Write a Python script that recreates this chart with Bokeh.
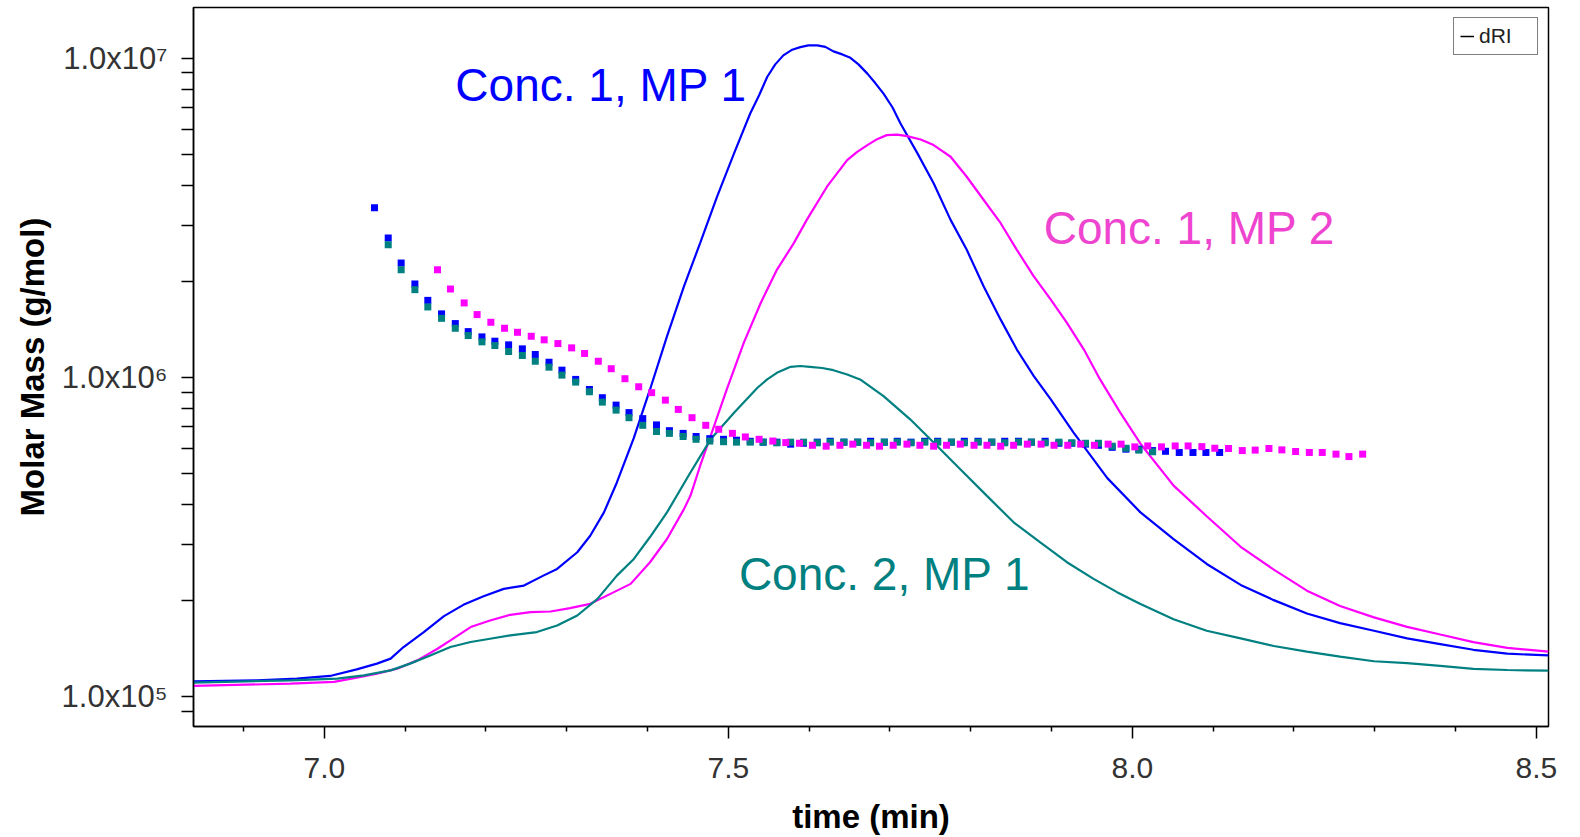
from bokeh.plotting import figure
from bokeh.models import (Range1d, LinearScale, FixedTicker, CustomJSTickFormatter,
                          PrintfTickFormatter, Label, Legend, LegendItem)
from bokeh.embed import file_html
from bokeh.resources import INLINE

# ---------------- data ----------------
# Molar mass (dots) – Conc. 1, MP 1 (blue)
blue_mm_time = [7.062, 7.079, 7.095, 7.112, 7.128, 7.145, 7.162, 7.178, 7.195, 7.211,
                7.228, 7.245, 7.261, 7.278, 7.294, 7.311, 7.328, 7.344, 7.361, 7.377,
                7.394, 7.411, 7.427, 7.444, 7.460, 7.477, 7.494, 7.510, 7.527, 7.543,
                7.560, 7.577, 7.593, 7.610, 7.626, 7.643, 7.660, 7.676, 7.693, 7.709,
                7.726, 7.743, 7.759, 7.776, 7.792, 7.809, 7.826, 7.842, 7.859, 7.875,
                7.892, 7.909, 7.925, 7.942, 7.958, 7.975, 7.992, 8.008, 8.025, 8.041,
                8.058, 8.075, 8.091, 8.108]
blue_mm = [3.405e6, 2.733e6, 2.283e6, 1.963e6, 1.744e6, 1.582e6, 1.475e6, 1.392e6, 1.340e6, 1.299e6,
           1.265e6, 1.229e6, 1.180e6, 1.116e6, 1.054e6, 9.86e5, 9.17e5, 8.64e5, 8.19e5, 7.76e5,
           7.43e5, 7.10e5, 6.81e5, 6.68e5, 6.53e5, 6.43e5, 6.40e5, 6.36e5, 6.31e5, 6.27e5,
           6.27e5, 6.18e5, 6.22e5, 6.27e5, 6.31e5, 6.27e5, 6.27e5, 6.31e5, 6.27e5, 6.31e5,
           6.27e5, 6.31e5, 6.31e5, 6.27e5, 6.31e5, 6.31e5, 6.27e5, 6.31e5, 6.31e5, 6.27e5,
           6.31e5, 6.22e5, 6.22e5, 6.18e5, 6.13e5, 6.04e5, 5.96e5, 5.96e5, 5.90e5, 5.87e5,
           5.82e5, 5.82e5, 5.82e5, 5.82e5]

# Molar mass – Conc. 2, MP 1 (teal)
teal_mm_time = [7.079, 7.095, 7.112, 7.128, 7.145, 7.162, 7.178, 7.195, 7.211, 7.228,
                7.245, 7.261, 7.278, 7.294, 7.311, 7.328, 7.344, 7.361, 7.377, 7.394,
                7.411, 7.427, 7.444, 7.460, 7.477, 7.494, 7.510, 7.527, 7.543, 7.560,
                7.577, 7.593, 7.610, 7.626, 7.643, 7.660, 7.676, 7.693, 7.709, 7.726,
                7.743, 7.759, 7.776, 7.792, 7.809, 7.826, 7.842, 7.859, 7.875, 7.892,
                7.909, 7.925, 7.942, 7.958, 7.975, 7.992, 8.008, 8.025]
teal_mm = [2.604e6, 2.175e6, 1.884e6, 1.663e6, 1.532e6, 1.426e6, 1.353e6, 1.293e6, 1.259e6, 1.206e6,
           1.172e6, 1.124e6, 1.077e6, 1.017e6, 9.67e5, 9.02e5, 8.37e5, 7.90e5, 7.48e5, 7.08e5,
           6.77e5, 6.68e5, 6.53e5, 6.40e5, 6.32e5, 6.29e5, 6.27e5, 6.27e5, 6.27e5, 6.24e5,
           6.27e5, 6.27e5, 6.24e5, 6.27e5, 6.27e5, 6.27e5, 6.24e5, 6.27e5, 6.27e5, 6.24e5,
           6.27e5, 6.27e5, 6.27e5, 6.24e5, 6.27e5, 6.27e5, 6.24e5, 6.27e5, 6.27e5, 6.24e5,
           6.27e5, 6.24e5, 6.22e5, 6.22e5, 6.09e5, 6.00e5, 5.92e5, 5.85e5]

# Molar mass – Conc. 1, MP 2 (magenta)
magenta_mm_time = [7.140, 7.156, 7.173, 7.189, 7.206, 7.223, 7.239, 7.256, 7.272, 7.289,
                   7.306, 7.322, 7.339, 7.355, 7.372, 7.389, 7.405, 7.422, 7.438, 7.455,
                   7.472, 7.488, 7.505, 7.521, 7.538, 7.555, 7.571, 7.588, 7.604, 7.621,
                   7.638, 7.654, 7.671, 7.687, 7.704, 7.721, 7.737, 7.754, 7.770, 7.787,
                   7.804, 7.820, 7.837, 7.853, 7.870, 7.887, 7.903, 7.920, 7.936, 7.953,
                   7.970, 7.986, 8.003, 8.019, 8.036, 8.053, 8.069, 8.086, 8.102, 8.119,
                   8.136, 8.152, 8.169, 8.185, 8.202, 8.219, 8.235, 8.252, 8.268, 8.285]
magenta_mm = [2.175e6, 1.893e6, 1.712e6, 1.574e6, 1.489e6, 1.426e6, 1.385e6, 1.346e6, 1.312e6, 1.277e6,
              1.238e6, 1.189e6, 1.124e6, 1.065e6, 9.91e5, 9.35e5, 8.96e5, 8.49e5, 7.94e5, 7.48e5,
              7.08e5, 6.88e5, 6.68e5, 6.51e5, 6.40e5, 6.32e5, 6.25e5, 6.22e5, 6.13e5, 6.09e5,
              6.13e5, 6.18e5, 6.13e5, 6.09e5, 6.13e5, 6.18e5, 6.13e5, 6.09e5, 6.13e5, 6.18e5,
              6.13e5, 6.13e5, 6.09e5, 6.13e5, 6.18e5, 6.18e5, 6.13e5, 6.13e5, 6.18e5, 6.13e5,
              6.18e5, 6.18e5, 6.06e5, 6.10e5, 6.06e5, 6.10e5, 6.10e5, 6.07e5, 6.00e5, 5.99e5,
              5.90e5, 5.92e5, 5.99e5, 5.93e5, 5.86e5, 5.82e5, 5.82e5, 5.75e5, 5.65e5, 5.75e5]

# dRI signal (relative units)
blue_dri_time = [6.838, 6.917, 6.966, 7.007, 7.040, 7.065, 7.082, 7.098, 7.123, 7.148,
                 7.172, 7.197, 7.222, 7.247, 7.271, 7.288, 7.313, 7.329, 7.346, 7.362,
                 7.383, 7.403, 7.424, 7.445, 7.465, 7.486, 7.507, 7.527, 7.538, 7.548,
                 7.558, 7.568, 7.579, 7.589, 7.599, 7.610, 7.620, 7.630, 7.641, 7.651,
                 7.661, 7.672, 7.682, 7.692, 7.703, 7.713, 7.734, 7.754, 7.775, 7.795,
                 7.816, 7.837, 7.857, 7.878, 7.899, 7.927, 7.969, 8.010, 8.051, 8.092,
                 8.134, 8.175, 8.216, 8.257, 8.299, 8.340, 8.381, 8.422, 8.464, 8.515]
blue_dri = [0.0036, 0.0052, 0.0078, 0.0120, 0.0223, 0.0313, 0.0391, 0.0573, 0.0808, 0.1058,
            0.1234, 0.1370, 0.1484, 0.1536, 0.1692, 0.1797, 0.2058, 0.2317, 0.2683, 0.3152,
            0.3850, 0.4609, 0.5442, 0.6223, 0.6902, 0.7630, 0.8308, 0.8933, 0.9219, 0.9505,
            0.9703, 0.9844, 0.9933, 0.9973, 1.0000, 1.0000, 0.9977, 0.9906, 0.9859, 0.9805,
            0.9703, 0.9558, 0.9406, 0.9245, 0.9031, 0.8777, 0.8308, 0.7839, 0.7266, 0.6797,
            0.6223, 0.5703, 0.5234, 0.4817, 0.4453, 0.3938, 0.3220, 0.2683, 0.2264, 0.1875,
            0.1547, 0.1308, 0.1098, 0.0948, 0.0828, 0.0709, 0.0619, 0.0530, 0.0469, 0.0441]

magenta_dri_time = [6.838, 6.958, 7.012, 7.040, 7.065, 7.090, 7.115, 7.140, 7.156, 7.181,
                    7.205, 7.230, 7.255, 7.280, 7.304, 7.329, 7.354, 7.379, 7.403, 7.424,
                    7.445, 7.453, 7.465, 7.478, 7.498, 7.519, 7.540, 7.560, 7.581, 7.597,
                    7.622, 7.647, 7.659, 7.672, 7.684, 7.696, 7.709, 7.721, 7.738, 7.754,
                    7.764, 7.775, 7.795, 7.816, 7.837, 7.857, 7.878, 7.899, 7.919, 7.940,
                    7.960, 7.985, 8.010, 8.051, 8.092, 8.134, 8.175, 8.216, 8.257, 8.299,
                    8.340, 8.381, 8.422, 8.464, 8.515]
magenta_dri = [-0.0036, 0.0000, 0.0027, 0.0094, 0.0156, 0.0234, 0.0364, 0.0547, 0.0677, 0.0886,
               0.0989, 0.1078, 0.1120, 0.1130, 0.1183, 0.1250, 0.1406, 0.1563, 0.1902, 0.2266,
               0.2734, 0.2942, 0.3410, 0.3880, 0.4609, 0.5339, 0.5964, 0.6484, 0.6902, 0.7266,
               0.7786, 0.8203, 0.8328, 0.8438, 0.8531, 0.8594, 0.8602, 0.8578, 0.8525, 0.8438,
               0.8352, 0.8255, 0.7942, 0.7578, 0.7214, 0.6797, 0.6380, 0.6016, 0.5652, 0.5234,
               0.4766, 0.4245, 0.3759, 0.3102, 0.2623, 0.2144, 0.1786, 0.1456, 0.1217, 0.1038,
               0.0889, 0.0769, 0.0650, 0.0559, 0.0500]

teal_dri_time = [6.838, 6.958, 7.016, 7.049, 7.082, 7.106, 7.131, 7.156, 7.181, 7.205,
                 7.230, 7.263, 7.288, 7.313, 7.338, 7.362, 7.383, 7.403, 7.424, 7.453,
                 7.478, 7.507, 7.536, 7.548, 7.560, 7.577, 7.589, 7.601, 7.616, 7.630,
                 7.647, 7.663, 7.692, 7.725, 7.754, 7.787, 7.820, 7.853, 7.886, 7.919,
                 7.952, 7.981, 8.010, 8.051, 8.092, 8.134, 8.175, 8.216, 8.257, 8.299,
                 8.340, 8.381, 8.422, 8.464, 8.515]
teal_dri = [0.0016, 0.0052, 0.0078, 0.0130, 0.0208, 0.0313, 0.0442, 0.0573, 0.0652, 0.0703,
            0.0755, 0.0808, 0.0911, 0.1067, 0.1328, 0.1692, 0.1953, 0.2297, 0.2683, 0.3308,
            0.3828, 0.4245, 0.4636, 0.4766, 0.4870, 0.4964, 0.4977, 0.4964, 0.4945, 0.4911,
            0.4844, 0.4766, 0.4505, 0.4141, 0.3777, 0.3359, 0.2942, 0.2527, 0.2214, 0.1902,
            0.1641, 0.1433, 0.1247, 0.1008, 0.0828, 0.0709, 0.0589, 0.0500, 0.0422, 0.0350,
            0.0320, 0.0278, 0.0231, 0.0213, 0.0202]

x_major_ticks = [7.0, 7.5, 8.0, 8.5]
x_minor_ticks = [6.9, 7.1, 7.2, 7.3, 7.4, 7.6, 7.7, 7.8, 7.9, 8.1, 8.2, 8.3, 8.4]
y_major_ticks = [1e5, 1e6, 1e7]
y_minor_ticks = [9e4, 2e5, 3e5, 4e5, 5e5, 6e5, 7e5, 8e5, 9e5,
                 2e6, 3e6, 4e6, 5e6, 6e6, 7e6, 8e6, 9e6]

BLUE = "#0000FF"
MAGENTA = "#FF00FF"
TEAL = "#008080"
FONT = "Liberation Sans"

# ---------------- figure ----------------
p = figure(width=1580, height=837, y_axis_type="log",
           x_range=Range1d(6.838, 8.515), y_range=Range1d(8.058e4, 1.443e7),
           output_backend="svg", toolbar_location=None,
           min_border_left=193, min_border_right=32, min_border_top=7, min_border_bottom=109)
p.extra_y_ranges = {"dri": Range1d(-0.0672, 1.0594)}
p.extra_y_scales = {"dri": LinearScale()}

p.background_fill_color = "white"
p.border_fill_color = "white"
p.outline_line_color = "black"
p.outline_line_width = 1.5
p.xgrid.visible = False
p.ygrid.visible = False

# x axis
xa = p.xaxis[0]
xa.ticker = FixedTicker(ticks=x_major_ticks, minor_ticks=x_minor_ticks)
xa.formatter = PrintfTickFormatter(format="%.1f")
xa.axis_label = "time (min)"
xa.axis_label_text_font = FONT
xa.axis_label_text_font_style = "bold"
xa.axis_label_text_font_size = "33px"
xa.axis_label_text_color = "black"
xa.axis_label_standoff = 17
xa.major_label_text_font = FONT
xa.major_label_text_font_size = "30px"
xa.major_label_text_color = "#333333"
xa.major_label_standoff = 19
xa.major_tick_out = 12
xa.major_tick_in = 0
xa.minor_tick_out = 5
xa.minor_tick_in = 0
xa.major_tick_line_width = 1.5
xa.minor_tick_line_width = 1.5
xa.axis_line_width = 1.5
xa.axis_line_color = "black"
xa.major_tick_line_color = "black"
xa.minor_tick_line_color = "black"

# y axis
ya = p.yaxis[0]
ya.ticker = FixedTicker(ticks=y_major_ticks, minor_ticks=y_minor_ticks)
ya.formatter = CustomJSTickFormatter(code="""
    const e = Math.round(Math.log10(tick));
    const sup = {"5": "\u2075", "6": "\u2076", "7": "\u2077"};
    return "1.0x10" + sup[String(e)];
""")
ya.axis_label = "Molar Mass (g/mol)"
ya.axis_label_text_font = FONT
ya.axis_label_text_font_style = "bold"
ya.axis_label_text_font_size = "33px"
ya.axis_label_text_color = "black"
ya.axis_label_standoff = 8
ya.major_label_text_font = FONT
ya.major_label_text_font_size = "31px"
ya.major_label_text_color = "#333333"
ya.major_label_standoff = 14
ya.major_tick_out = 12
ya.major_tick_in = 0
ya.minor_tick_out = 12
ya.minor_tick_in = 0
ya.major_tick_line_width = 1.5
ya.minor_tick_line_width = 1.5
ya.axis_line_width = 1.5
ya.axis_line_color = "black"
ya.major_tick_line_color = "black"
ya.minor_tick_line_color = "black"

# dRI curves
p.line(blue_dri_time, blue_dri, y_range_name="dri", line_color=BLUE, line_width=2.2)
p.line(magenta_dri_time, magenta_dri, y_range_name="dri", line_color=MAGENTA, line_width=2.2)
p.line(teal_dri_time, teal_dri, y_range_name="dri", line_color=TEAL, line_width=2.2)

# molar mass points
p.scatter(blue_mm_time, blue_mm, marker="square", size=7, fill_color=BLUE, line_color=None)
p.scatter(teal_mm_time, teal_mm, marker="square", size=7, fill_color=TEAL, line_color=None)
p.scatter(magenta_mm_time, magenta_mm, marker="square", size=7, fill_color=MAGENTA, line_color=None)

# annotations
p.add_layout(Label(x=7.1621, y=8.24e6, text="Conc. 1, MP 1", text_color=BLUE,
                   text_font=FONT, text_font_size="46px", text_baseline="alphabetic"))
p.add_layout(Label(x=7.8902, y=2.95e6, text="Conc. 1, MP 2", text_color="#EE44D0",
                   text_font=FONT, text_font_size="46px", text_baseline="alphabetic"))
p.add_layout(Label(x=7.5130, y=2.43e5, text="Conc. 2, MP 1", text_color=TEAL,
                   text_font=FONT, text_font_size="46px", text_baseline="alphabetic"))

# legend
nan = float("nan")
dummy = p.line([nan], [nan], y_range_name="dri", line_color="black", line_width=1.5)
legend = Legend(items=[LegendItem(label="dRI", renderers=[dummy])],
                location="top_right", margin=10, padding=6, spacing=0,
                glyph_width=14, glyph_height=18, label_standoff=5, label_width=52,
                label_height=18, label_text_font=FONT, label_text_font_size="21px",
                label_text_color="#222222", border_line_color="black",
                border_line_width=1.5, background_fill_color="white",
                background_fill_alpha=1.0)
p.add_layout(legend)

open("out.html", "w").write(file_html(p, INLINE))
